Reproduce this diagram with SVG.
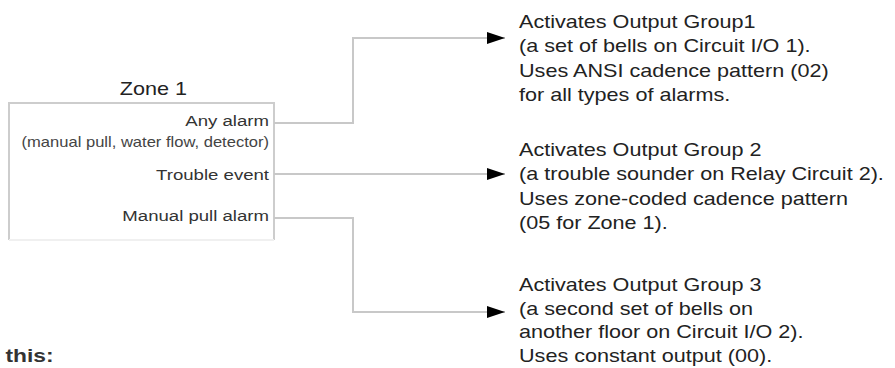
<svg xmlns="http://www.w3.org/2000/svg" width="895" height="368" viewBox="0 0 895 368">
<style>
  .box { fill: none; stroke: #cdcdcd; stroke-width: 2; }
  .conn { fill: none; stroke: #c8c8c8; stroke-width: 2; }
  text { font-family: "Liberation Sans", Arial, sans-serif; fill: #222; }
  .lbl { font-size: 15.5px; text-anchor: end; fill: #333; }
  .sub { font-size: 13.8px; text-anchor: end; fill: #444; }
  .out { font-size: 18px; }
  .title { font-size: 18px; text-anchor: middle; }
  .note { font-size: 19px; font-weight: bold; fill: #333; }
</style>
<defs>
  <marker id="arr" viewBox="0 0 18 12" refX="18" refY="6" markerWidth="18" markerHeight="12" markerUnits="userSpaceOnUse" orient="auto">
    <path d="M0,0 L18,6 L0,12 z" fill="#000"/>
  </marker>
</defs>
<rect width="895" height="368" fill="#fff"/>
<g id="zone1">
  <path class="box" d="M9,240 V103 H274 V240"/>
  <path d="M9,240 H274" stroke="#f0f0f0" stroke-width="2"/>
  <g transform="scale(1.2 1)">
    <text class="title" x="127.9" y="95">Zone 1</text>
    <text class="lbl" x="224.2" y="126">Any alarm</text>
    <text class="sub" x="224.2" y="147">(manual pull, water flow, detector)</text>
    <text class="lbl" x="224.2" y="180">Trouble event</text>
    <text class="lbl" x="224.2" y="221">Manual pull alarm</text>
  </g>
</g>
<g id="connectors">
  <path class="conn" d="M274,123 H353 V38 H505" marker-end="url(#arr)"/>
  <path class="conn" d="M274,174 H505" marker-end="url(#arr)"/>
  <path class="conn" d="M274,218 H353 V312 H505" marker-end="url(#arr)"/>
</g>
<g id="output1" transform="scale(1.2 1)">
  <text class="out" x="432.5" y="28">Activates Output Group1</text>
  <text class="out" x="432.5" y="52.5">(a set of bells on Circuit I/O 1).</text>
  <text class="out" x="432.5" y="77">Uses ANSI cadence pattern (02)</text>
  <text class="out" x="432.5" y="101.5">for all types of alarms.</text>
</g>
<g id="output2" transform="scale(1.2 1)">
  <text class="out" x="432.5" y="156">Activates Output Group 2</text>
  <text class="out" x="432.5" y="180.5">(a trouble sounder on Relay Circuit 2).</text>
  <text class="out" x="432.5" y="205">Uses zone-coded cadence pattern</text>
  <text class="out" x="432.5" y="229.5">(05 for Zone 1).</text>
</g>
<g id="output3" transform="scale(1.2 1)">
  <text class="out" x="432.5" y="291">Activates Output Group 3</text>
  <text class="out" x="432.5" y="315">(a second set of bells on</text>
  <text class="out" x="432.5" y="338.5">another floor on Circuit I/O 2).</text>
  <text class="out" x="432.5" y="362">Uses constant output (00).</text>
</g>
<g id="note" transform="scale(1.2 1)">
  <text class="note" x="4.5" y="362">this:</text>
</g>
</svg>
